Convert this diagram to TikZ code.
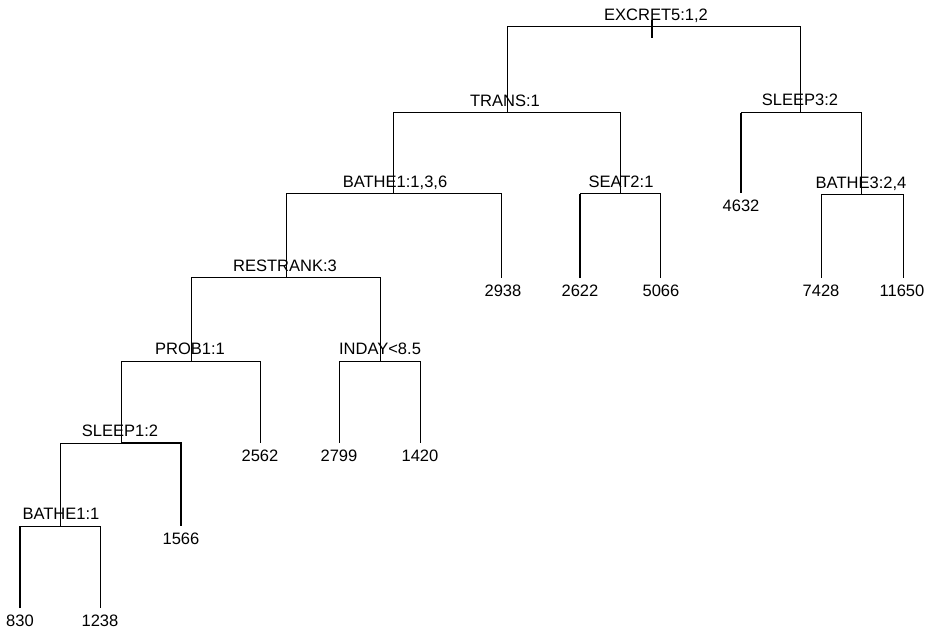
\documentclass[tikz,border=0pt]{standalone}
\usepackage{fontspec}
\setmainfont{Liberation Sans}
\begin{document}
\begin{tikzpicture}[x=0.75pt,y=-0.75pt,
  edge/.style={line width=0.75pt,black},
  thickedge/.style={line width=1.3pt,black},
  split/.style={anchor=base,inner sep=0pt,yshift=4.6pt,font=\fontsize{12.4}{14}\selectfont},
  leaf/.style={anchor=north,inner xsep=0pt,inner ysep=5pt,font=\fontsize{12.4}{14}\selectfont}]
\useasboundingbox (0,0) rectangle (933,635);
% junction coordinates (pixel units, y downward)
\coordinate (ex) at (652,27);
\coordinate (rt) at (652,20);
\coordinate (rb) at (652,38);
\coordinate (trans) at (507,113);
\coordinate (sleepc) at (800,113);
\coordinate (bathea) at (393,194);
\coordinate (seat) at (620,194);
\coordinate (bathec) at (861,195);
\coordinate (rest) at (286,277);
\coordinate (prob) at (191,361);
\coordinate (inday) at (380,361);
\coordinate (sleepa) at (121,443);
\coordinate (batheb) at (60,526);
% leaf ends
\coordinate (l4632) at (741,193);
\coordinate (l7428) at (821,278);
\coordinate (l11650) at (903,278);
\coordinate (l2938) at (501,278);
\coordinate (l2622) at (580,278);
\coordinate (l5066) at (660,278);
\coordinate (l2562) at (260,443);
\coordinate (l2799) at (339,443);
\coordinate (l1420) at (420,443);
\coordinate (l1566) at (181,526);
\coordinate (l830) at (20,608);
\coordinate (l1238) at (100,608);
% split labels
\node[split] (tex) at (656,27) {EXCRET5:1,2};
\node[split] (ttrans) at (505,113) {TRANS:1};
\node[split] (tsleepc) at (800,112) {SLEEP3:2};
\node[split] (tbathea) at (395,194) {BATHE1:1,3,6};
\node[split] (tseat) at (621,194) {SEAT2:1};
\node[split] (tbathec) at (861,195) {BATHE3:2,4};
\node[split] (trest) at (285,278) {RESTRANK:3};
\node[split] (tprob) at (190,361) {PROB1:1};
\node[split] (tinday) at (380,361) {INDAY<8.5};
\node[split] (tsleepa) at (120,443) {SLEEP1:2};
\node[split] (tbatheb) at (61,526) {BATHE1:1};
% leaf labels
\node[leaf] (n4632) at (l4632) {4632};
\node[leaf] (n7428) at (l7428) {7428};
\node[leaf] (n11650) at (902,278) {11650};
\node[leaf] (n2938) at (503,278) {2938};
\node[leaf] (n2622) at (l2622) {2622};
\node[leaf] (n5066) at (661,278) {5066};
\node[leaf] (n2562) at (l2562) {2562};
\node[leaf] (n2799) at (l2799) {2799};
\node[leaf] (n1420) at (l1420) {1420};
\node[leaf] (n1566) at (l1566) {1566};
\node[leaf] (n830) at (l830) {830};
\node[leaf] (n1238) at (l1238) {1238};
% connectors
\draw[thickedge] (rt) -- (rb);
\draw[edge] (ex) -| (trans);
\draw[edge] (ex) -| (sleepc);
\draw[edge] (trans) -| (bathea);
\draw[edge] (trans) -| (seat);
\draw[edge] (sleepc) -| (l4632);
\draw[thickedge] (l4632) -- (sleepc -| l4632);
\draw[edge] (sleepc) -| (bathec);
\draw[edge] (bathec) -| (l7428);
\draw[edge] (bathec) -| (l11650);
\draw[edge] (bathea) -| (rest);
\draw[edge] (bathea) -| (l2938);
\draw[edge] (seat) -| (l2622);
\draw[thickedge] (l2622) -- (seat -| l2622);
\draw[edge] (seat) -| (l5066);
\draw[edge] (rest) -| (prob);
\draw[edge] (rest) -| (inday);
\draw[edge] (prob) -| (sleepa);
\draw[edge] (prob) -| (l2562);
\draw[edge] (inday) -| (l2799);
\draw[edge] (inday) -| (l1420);
\draw[edge] (sleepa) -| (batheb);
\draw[thickedge] (sleepa) -| (l1566);
\draw[edge] (batheb) -| (l830);
\draw[thickedge] (l830) -- (batheb -| l830);
\draw[edge] (batheb) -| (l1238);
\end{tikzpicture}
\end{document}
